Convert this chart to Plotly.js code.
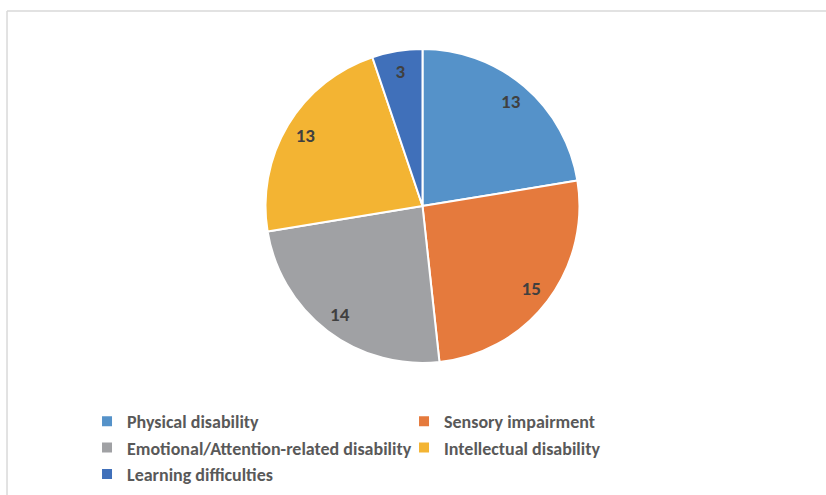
<!DOCTYPE html>
<html>
<head>
<meta charset="utf-8">
<script src="https://cdn.plot.ly/plotly-3.0.1.min.js"></script>
<style>
  html, body { margin: 0; padding: 0; background: #ffffff; }
  #chart { width: 826px; height: 495px; }
</style>
</head>
<body>
<div id="chart"></div>
<script>
// ---- data ----
const categories = [
  "Physical disability",
  "Sensory impairment",
  "Emotional/Attention-related disability",
  "Intellectual disability",
  "Learning difficulties"
];
const counts = [13, 15, 14, 13, 3];
const sliceColors = ["#5592C9", "#E57A3D", "#A0A1A4", "#F3B433", "#4070BA"];

const FONT = "Carlito, 'Liberation Sans', sans-serif";
const pieDomain = { x: [0.2936, 0.7421], y: [0.2667, 0.901] };

const mainPie = {
  type: "pie",
  labels: categories,
  values: counts,
  sort: false,
  direction: "clockwise",
  rotation: 0,
  domain: pieDomain,
  marker: { colors: sliceColors, line: { color: "#ffffff", width: 2 } },
  textinfo: "none",
  hoverinfo: "label+value",
  showlegend: true
};

// transparent ring used only to place the value labels near the rim
const labelRing = {
  type: "pie",
  labels: categories,
  values: counts,
  sort: false,
  direction: "clockwise",
  rotation: 0,
  hole: 0.74,
  domain: pieDomain,
  marker: { colors: categories.map(() => "rgba(0,0,0,0)"), line: { width: 0 } },
  textinfo: "value",
  textposition: "inside",
  insidetextorientation: "horizontal",
  textfont: { family: FONT, size: 19, weight: "bold", color: "#404040" },
  hoverinfo: "skip",
  showlegend: false
};

const layout = {
  width: 826,
  height: 495,
  margin: { l: 60, r: 66, t: 0, b: 0 },
  paper_bgcolor: "#ffffff",
  plot_bgcolor: "#ffffff",
  showlegend: true,
  legend: {
    orientation: "h",
    x: 0.0386,
    xanchor: "left",
    y: 0.1859,
    yanchor: "top",
    entrywidth: 272,
    entrywidthmode: "pixels",
    font: { family: FONT, size: 18, weight: "bold", color: "#595959" },
    bgcolor: "rgba(0,0,0,0)",
    traceorder: "normal"
  },
  shapes: [
    { type: "line", xref: "paper", yref: "paper", x0: -0.0757, x1: 1.2, y0: 0.9778, y1: 0.9778,
      line: { color: "#D9D9D9", width: 1.5 } },
    { type: "line", xref: "paper", yref: "paper", x0: -0.0757, x1: -0.0757, y0: -0.05, y1: 0.9778,
      line: { color: "#D9D9D9", width: 1.5 } }
  ]
};

Plotly.newPlot("chart", [mainPie, labelRing], layout, { displayModeBar: false, staticPlot: true });
</script>
</body>
</html>
